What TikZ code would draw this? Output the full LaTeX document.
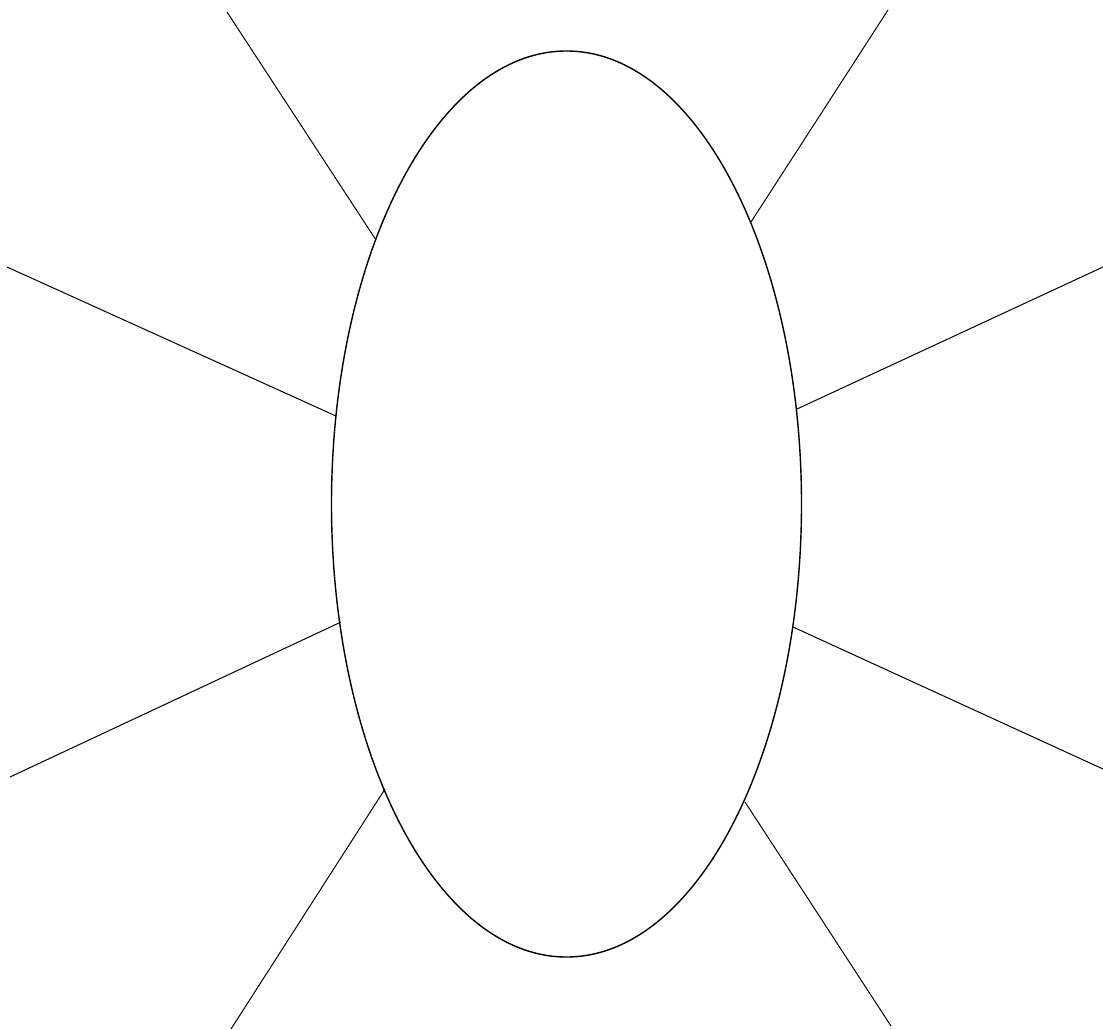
\documentclass[tikz,border=0pt]{standalone}
\usetikzlibrary{shapes.geometric}
\begin{document}
\begin{tikzpicture}[x=1pt,y=-1pt,
  body/.style={draw=black,line width=1.4pt,ellipse,minimum width=470pt,minimum height=906pt,inner sep=0pt},
  leg/.style={draw=black,line width=1pt}]
\useasboundingbox (0,0) rectangle (1103,1030);
\node[body] (e) at (566.5,504) {};
\coordinate (a1) at (227,12);   \coordinate (b1) at (376,240);
\coordinate (a2) at (7,267);    \coordinate (b2) at (336,416);
\coordinate (a3) at (10,777);   \coordinate (b3) at (341,622);
\coordinate (a4) at (231,1029); \coordinate (b4) at (385,789);
\coordinate (a5) at (888,10);   \coordinate (b5) at (751,222);
\coordinate (a6) at (1103,267); \coordinate (b6) at (797,409);
\coordinate (a7) at (1103,769); \coordinate (b7) at (793,627);
\coordinate (a8) at (891,1026); \coordinate (b8) at (745,802);
\foreach \i in {1,...,8} \draw[leg] (a\i) -- (b\i);
\end{tikzpicture}
\end{document}
